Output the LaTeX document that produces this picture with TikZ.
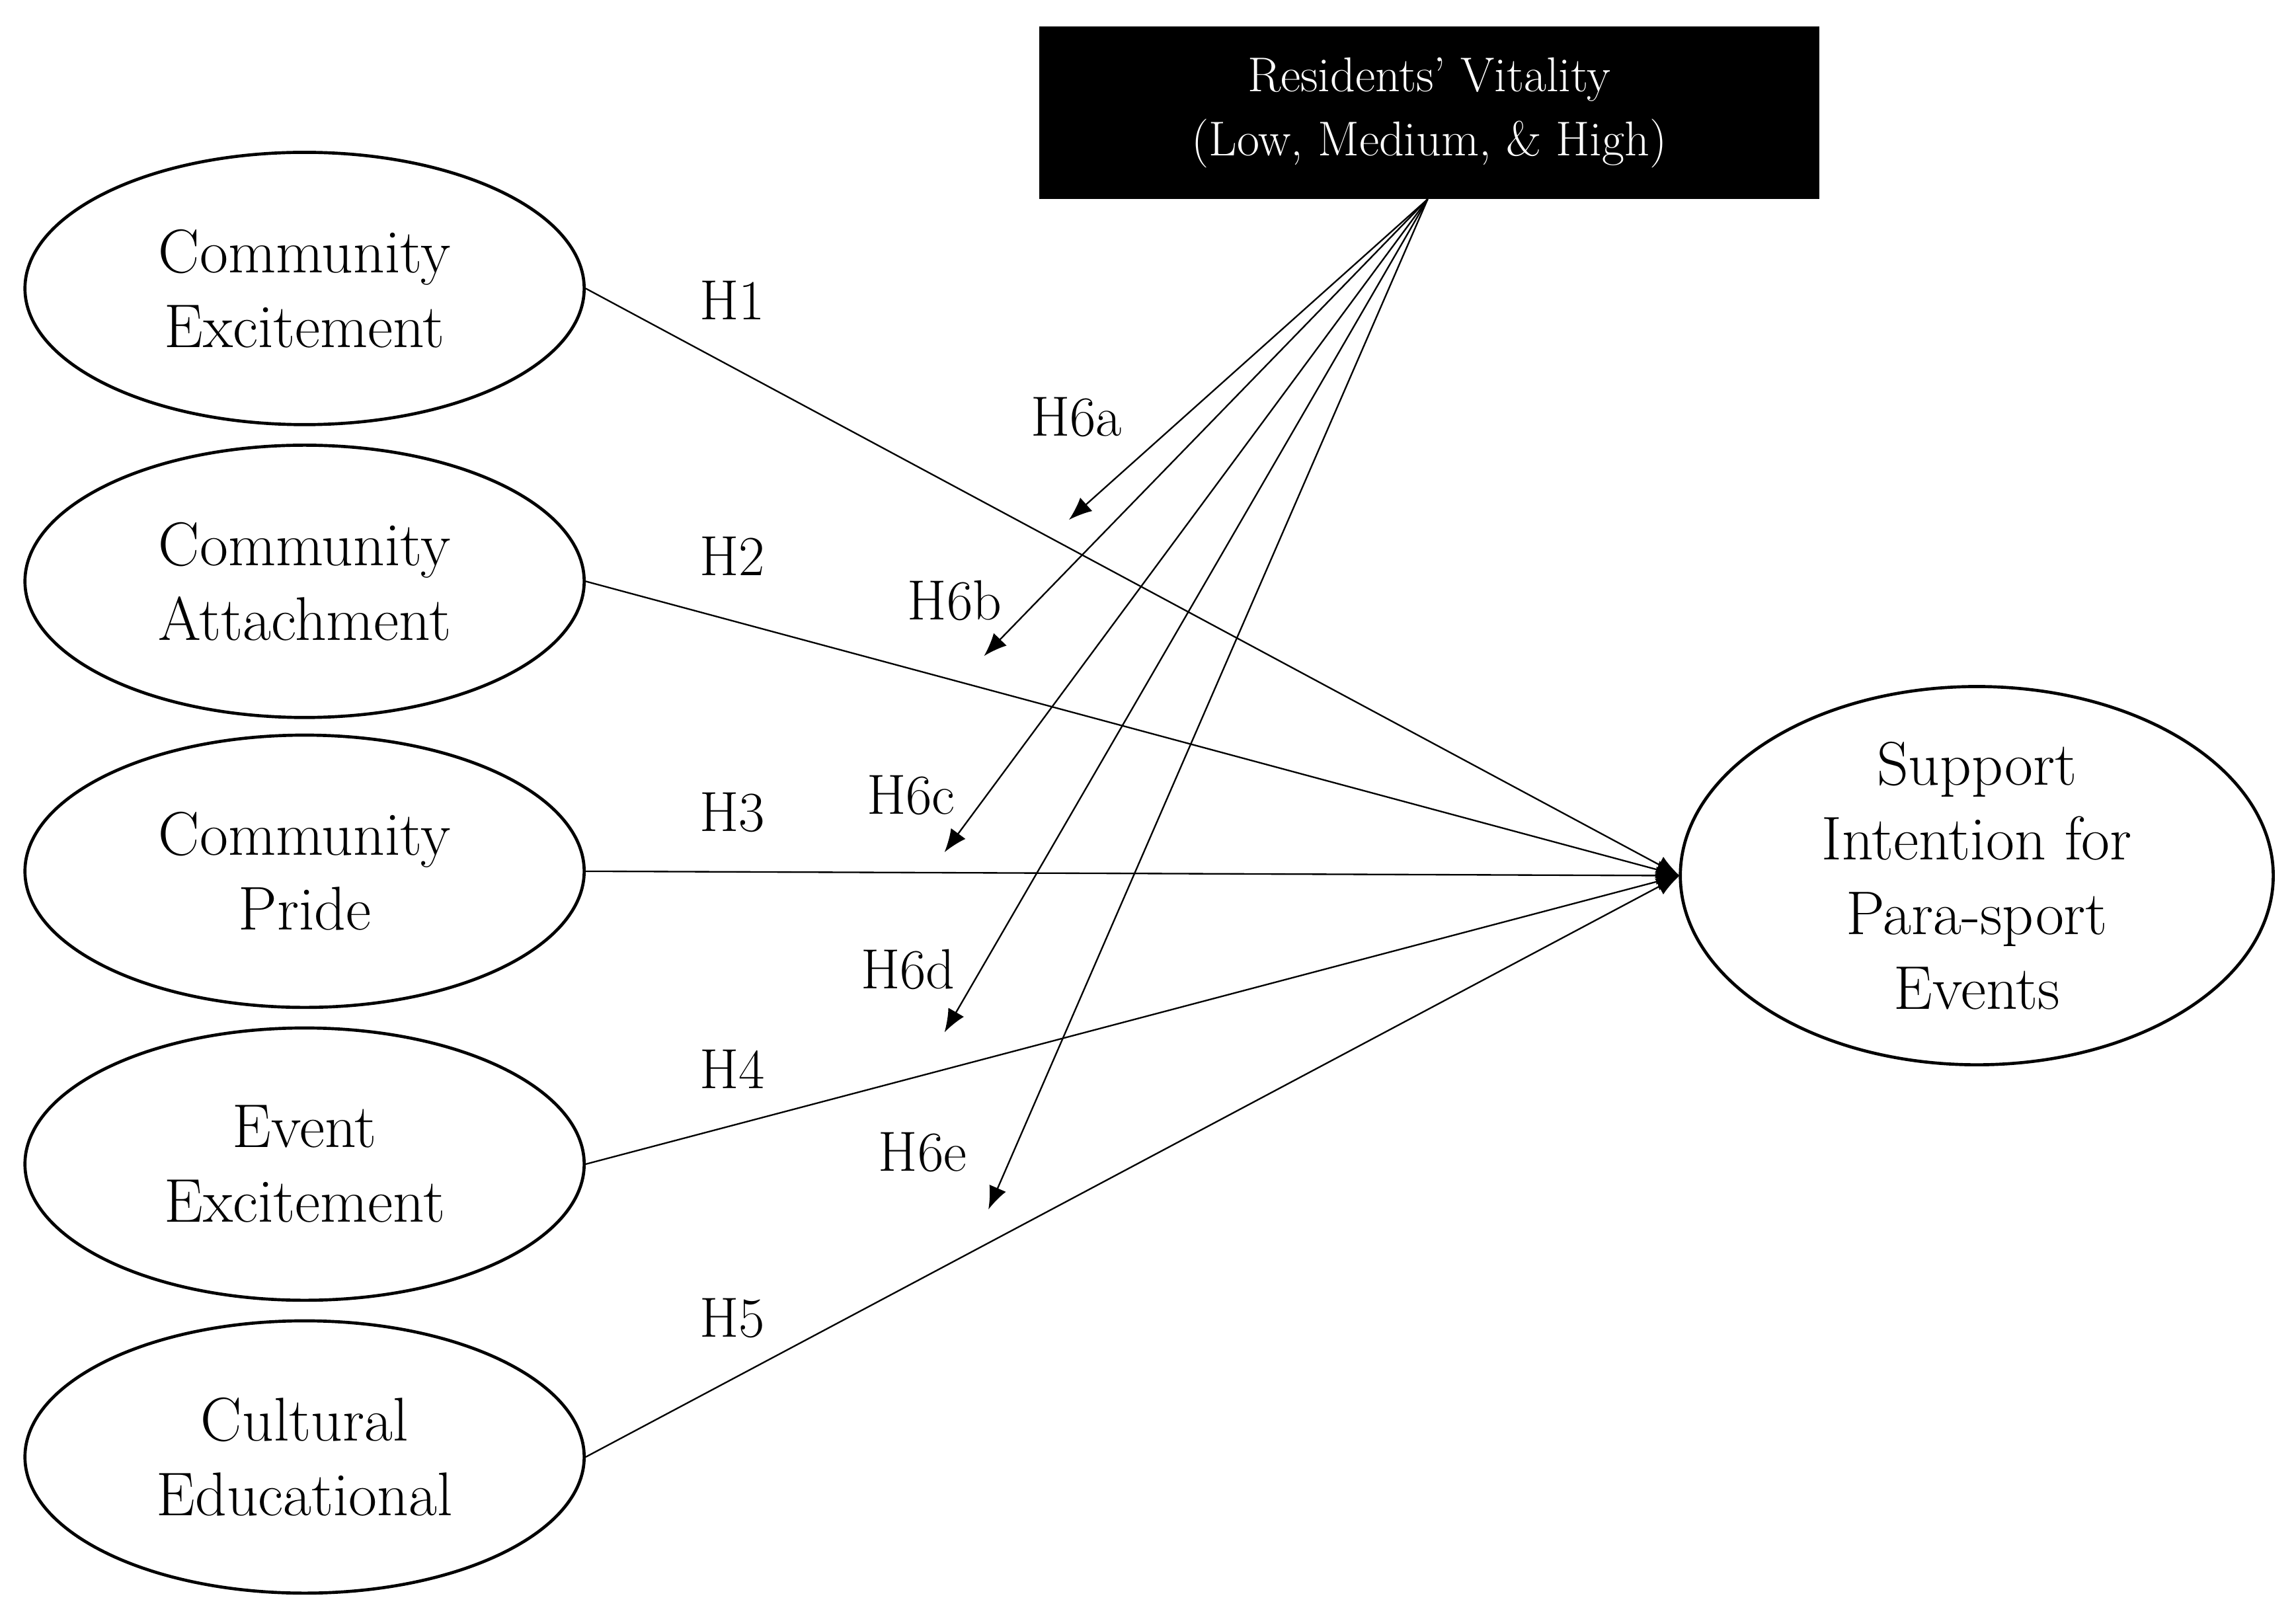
\documentclass[tikz,border=0pt]{standalone}
\usetikzlibrary{arrows.meta,shapes.geometric}
\begin{document}
\begin{tikzpicture}[x=0.02cm,y=-0.02cm,
 ell/.style={draw,ellipse,line width=1.2pt,minimum width=7.64cm,minimum height=3.72cm,inner sep=0pt,align=center,font=\fontsize{24}{29}\selectfont},
 lab/.style={font=\fontsize{22}{26}\selectfont},
 con/.style={line width=0.6pt,-{Latex[length=9pt,width=7pt]}}]
\useasboundingbox (0,0) rectangle (1568,1107);
\node[ell] (ce) at (208,197) {Community\\Excitement};
\node[ell] (ca) at (208,397) {Community\\Attachment};
\node[ell] (cp) at (208,595) {Community\\Pride};
\node[ell] (ee) at (208,795) {Event\\Excitement};
\node[ell] (cu) at (208,995) {Cultural\\Educational};
\node[draw,ellipse,line width=1.2pt,minimum width=8.1cm,minimum height=4.74cm,inner sep=0pt,align=center,font=\fontsize{24}{29}\selectfont] (si) at (1350,598) {Support\\Intention for\\Para-sport\\Events};
\node[fill=black,text=white,minimum width=10.66cm,minimum height=2.36cm,align=center,font=\fontsize{19}{25}\selectfont] (rv) at (976,77) {Residents' Vitality\\(Low, Medium, \& High)};
\coordinate (t) at (1147,598);
\foreach \n in {ce,ca,cp,ee,cu} \draw[con] (\n.east) -- (t);
\coordinate (s) at (975,136);
\coordinate (a) at (730,355);
\coordinate (b) at (672,448);
\coordinate (c) at (645,582);
\coordinate (d) at (645,705);
\coordinate (e) at (675,826);
\foreach \n in {a,b,c,d,e} \draw[con] (s) -- (\n);
\node[lab] (h1) at (500,205) {H1};
\node[lab] (h2) at (500,380) {H2};
\node[lab] (h3) at (500,555) {H3};
\node[lab] (h4) at (500,730) {H4};
\node[lab] (h5) at (500,900) {H5};
\node[lab] (h6a) at (735,285) {H6a};
\node[lab] (h6b) at (652,410) {H6b};
\node[lab] (h6c) at (622,543) {H6c};
\node[lab] (h6d) at (620,662) {H6d};
\node[lab] (h6e) at (630,787) {H6e};
\end{tikzpicture}
\end{document}
